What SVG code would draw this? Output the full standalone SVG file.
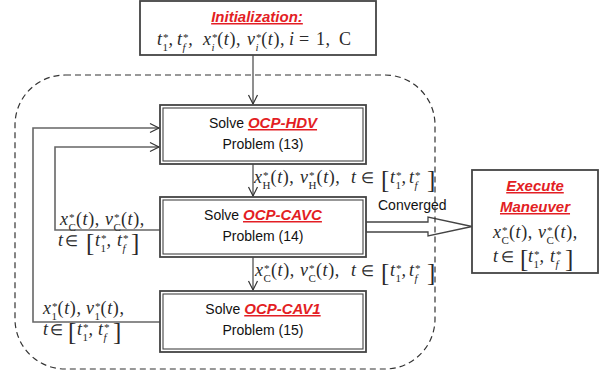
<svg xmlns="http://www.w3.org/2000/svg" width="605" height="374" viewBox="0 0 605 374">
  <style>
    .box { fill: #fff; stroke: #444; stroke-width: 1.8; }
    .dbl { fill: none; stroke: #444; stroke-width: 1.1; }
    .lbl { font-family: "Liberation Sans", Arial, sans-serif; font-size: 14px; fill: #111; }
    .red { font-family: "Liberation Sans", Arial, sans-serif; font-size: 15px; font-weight: bold; font-style: italic; fill: #e31e24; text-decoration: underline; }
    .m { font-family: "Liberation Serif", "Times New Roman", serif; font-style: italic; font-size: 18px; letter-spacing: 0.6px; fill: #2a2a2a; }
    .u { font-style: normal; }
    .s { font-size: 11px; letter-spacing: 0; }
    .in { font-style: normal; font-size: 15px; }
    .br { font-style: normal; font-size: 25px; }
    .wire { fill: none; stroke: #333; stroke-width: 1.1; }
    .loop { fill: none; stroke: #666; stroke-width: 1.6; }
  </style>
  <defs>
    <marker id="vee" markerUnits="userSpaceOnUse" markerWidth="12" markerHeight="12" viewBox="0 0 12 12" refX="10" refY="6" orient="auto">
      <path d="M1,1.5 L10,6 L1,10.5" fill="none" stroke="#333" stroke-width="1.2"/>
    </marker>
  </defs>

  <!-- connectors -->
  <g id="connectors">
    <path class="wire" d="M253,55 V104" marker-end="url(#vee)"/>
    <path class="wire" d="M253,164 V196" marker-end="url(#vee)"/>
    <path class="wire" d="M253,257 V290" marker-end="url(#vee)"/>
    <path class="loop" d="M160,322 H33 V128 H159" marker-end="url(#vee)"/>
    <path class="loop" d="M160,230 H55 V147 H159" marker-end="url(#vee)"/>
    <polygon points="366,222 428,222 428,217 472,226.5 428,236 428,232 366,232" fill="#fff" stroke="#444" stroke-width="1.3"/>
    <text class="lbl" x="378" y="210" font-size="14.5">Converged</text>
  </g>

  <!-- iteration boundary -->
  <rect x="15" y="75" width="420" height="294" rx="50" ry="50" fill="none" stroke="#333" stroke-width="1.2" stroke-dasharray="6,4"/>

  <!-- initialization -->
  <g id="init">
    <rect class="box" x="140" y="1" width="236" height="54"/>
    <text class="red" x="257" y="22" text-anchor="middle">Initialization:</text>
    <text class="m" y="45"><tspan x="157">t</tspan><tspan class="s" dy="-4">*</tspan><tspan class="s u" dx="-5.5" dy="10">1</tspan><tspan dy="-6" dx="0.5">,</tspan><tspan x="177">t</tspan><tspan class="s" dy="-4">*</tspan><tspan class="s" dx="-5.5" dy="10">f</tspan><tspan dy="-6" dx="2.5">,</tspan><tspan x="203">x</tspan><tspan class="s" dy="-4">*</tspan><tspan class="s" dx="-5.5" dy="10">i</tspan><tspan dy="-6" dx="2.5"><tspan class="u">(</tspan>t<tspan class="u">),</tspan></tspan><tspan x="247">v</tspan><tspan class="s" dy="-4">*</tspan><tspan class="s" dx="-5.5" dy="10">i</tspan><tspan dy="-6" dx="2.5"><tspan class="u">(</tspan>t<tspan class="u">),</tspan></tspan><tspan x="289">i</tspan><tspan class="u" x="299">=</tspan><tspan class="u" x="316">1,</tspan><tspan class="u" x="339">C</tspan></text>
  </g>

  <!-- OCP-HDV -->
  <g id="ocp-hdv">
    <rect class="box" x="160" y="105" width="206" height="59" stroke-width="1.1"/>
    <rect class="dbl" x="163" y="108" width="200" height="53"/>
    <text class="lbl" x="263" y="128" text-anchor="middle">Solve <tspan class="red">OCP-HDV</tspan></text>
    <text class="lbl" x="263" y="149" text-anchor="middle">Problem (13)</text>
  </g>

  <!-- OCP-CAVC -->
  <g id="ocp-cavc">
    <rect class="box" x="160" y="197" width="206" height="60" stroke-width="1.1"/>
    <rect class="dbl" x="163" y="200" width="200" height="54"/>
    <text class="lbl" x="263" y="220" text-anchor="middle">Solve <tspan class="red">OCP-CAVC</tspan></text>
    <text class="lbl" x="263" y="241" text-anchor="middle">Problem (14)</text>
  </g>

  <!-- OCP-CAV1 -->
  <g id="ocp-cav1">
    <rect class="box" x="160" y="291" width="206" height="61" stroke-width="1.1"/>
    <rect class="dbl" x="163" y="294" width="200" height="55"/>
    <text class="lbl" x="263" y="314" text-anchor="middle">Solve <tspan class="red">OCP-CAV1</tspan></text>
    <text class="lbl" x="263" y="335" text-anchor="middle">Problem (15)</text>
  </g>

  <!-- execute -->
  <g id="execute">
    <rect class="box" x="472" y="170" width="126" height="103"/>
    <text class="red" x="535" y="191" text-anchor="middle">Execute </text>
    <text class="red" x="535" y="212" text-anchor="middle">Maneuver</text>
    <text class="m" y="238"><tspan x="493">x</tspan><tspan class="s" dy="-4">*</tspan><tspan class="s u" dx="-5.5" dy="10">C</tspan><tspan dy="-6"><tspan class="u">(</tspan>t<tspan class="u">),</tspan></tspan><tspan x="538">v</tspan><tspan class="s" dy="-4">*</tspan><tspan class="s u" dx="-5.5" dy="10">C</tspan><tspan dy="-6"><tspan class="u">(</tspan>t<tspan class="u">),</tspan></tspan></text>
    <text class="m" y="262"><tspan x="493">t</tspan><tspan class="in" x="501">∈</tspan><tspan class="br" x="520" dy="5">[</tspan><tspan x="528" dy="-5">t</tspan><tspan class="s" dy="-4">*</tspan><tspan class="s u" dx="-5.5" dy="10">1</tspan><tspan dy="-6" dx="0.5">,</tspan><tspan x="550">t</tspan><tspan class="s" dy="-4">*</tspan><tspan class="s" dx="-5.5" dy="10">f</tspan><tspan class="br" x="565" dy="-1">]</tspan></text>
  </g>

  <!-- transfer labels -->
  <g id="labels">
    <text class="m" y="183"><tspan x="254">x</tspan><tspan class="s" dy="-4">*</tspan><tspan class="s u" dx="-5.5" dy="10">H</tspan><tspan dy="-6"><tspan class="u">(</tspan>t<tspan class="u">),</tspan></tspan><tspan x="300">v</tspan><tspan class="s" dy="-4">*</tspan><tspan class="s u" dx="-5.5" dy="10">H</tspan><tspan dy="-6"><tspan class="u">(</tspan>t<tspan class="u">),</tspan></tspan><tspan x="351">t</tspan><tspan class="in" x="361">∈</tspan><tspan class="br" x="381" dy="5">[</tspan><tspan x="390" dy="-5">t</tspan><tspan class="s" dy="-4">*</tspan><tspan class="s u" dx="-5.5" dy="10">1</tspan><tspan dy="-6" dx="0.5">,</tspan><tspan x="409">t</tspan><tspan class="s" dy="-4">*</tspan><tspan class="s" dx="-5.5" dy="10">f</tspan><tspan class="br" x="427" dy="-1">]</tspan></text>
    <text class="m" y="276"><tspan x="255">x</tspan><tspan class="s" dy="-4">*</tspan><tspan class="s u" dx="-5.5" dy="10">C</tspan><tspan dy="-6"><tspan class="u">(</tspan>t<tspan class="u">),</tspan></tspan><tspan x="300">v</tspan><tspan class="s" dy="-4">*</tspan><tspan class="s u" dx="-5.5" dy="10">C</tspan><tspan dy="-6"><tspan class="u">(</tspan>t<tspan class="u">),</tspan></tspan><tspan x="351">t</tspan><tspan class="in" x="361">∈</tspan><tspan class="br" x="381" dy="5">[</tspan><tspan x="390" dy="-5">t</tspan><tspan class="s" dy="-4">*</tspan><tspan class="s u" dx="-5.5" dy="10">1</tspan><tspan dy="-6" dx="0.5">,</tspan><tspan x="409">t</tspan><tspan class="s" dy="-4">*</tspan><tspan class="s" dx="-5.5" dy="10">f</tspan><tspan class="br" x="427" dy="-1">]</tspan></text>
    <text class="m" y="225"><tspan x="60">x</tspan><tspan class="s" dy="-4">*</tspan><tspan class="s u" dx="-5.5" dy="10">C</tspan><tspan dy="-6"><tspan class="u">(</tspan>t<tspan class="u">),</tspan></tspan><tspan x="105">v</tspan><tspan class="s" dy="-4">*</tspan><tspan class="s u" dx="-5.5" dy="10">C</tspan><tspan dy="-6"><tspan class="u">(</tspan>t<tspan class="u">),</tspan></tspan></text>
    <text class="m" y="246"><tspan x="58">t</tspan><tspan class="in" x="65">∈</tspan><tspan class="br" x="86" dy="5">[</tspan><tspan x="95" dy="-5">t</tspan><tspan class="s" dy="-4">*</tspan><tspan class="s u" dx="-5.5" dy="10">1</tspan><tspan dy="-6" dx="0.5">,</tspan><tspan x="117">t</tspan><tspan class="s" dy="-4">*</tspan><tspan class="s" dx="-5.5" dy="10">f</tspan><tspan class="br" x="131" dy="-1">]</tspan></text>
    <text class="m" y="314"><tspan x="43">x</tspan><tspan class="s" dy="-4">*</tspan><tspan class="s u" dx="-5.5" dy="10">1</tspan><tspan dy="-6" dx="0.5"><tspan class="u">(</tspan>t<tspan class="u">),</tspan></tspan><tspan x="86">v</tspan><tspan class="s" dy="-4">*</tspan><tspan class="s u" dx="-5.5" dy="10">1</tspan><tspan dy="-6" dx="0.5"><tspan class="u">(</tspan>t<tspan class="u">),</tspan></tspan></text>
    <text class="m" y="335"><tspan x="43">t</tspan><tspan class="in" x="50">∈</tspan><tspan class="br" x="68" dy="5">[</tspan><tspan x="77" dy="-5">t</tspan><tspan class="s" dy="-4">*</tspan><tspan class="s u" dx="-5.5" dy="10">1</tspan><tspan dy="-6" dx="0.5">,</tspan><tspan x="98">t</tspan><tspan class="s" dy="-4">*</tspan><tspan class="s" dx="-5.5" dy="10">f</tspan><tspan class="br" x="113" dy="-1">]</tspan></text>
  </g>
</svg>
